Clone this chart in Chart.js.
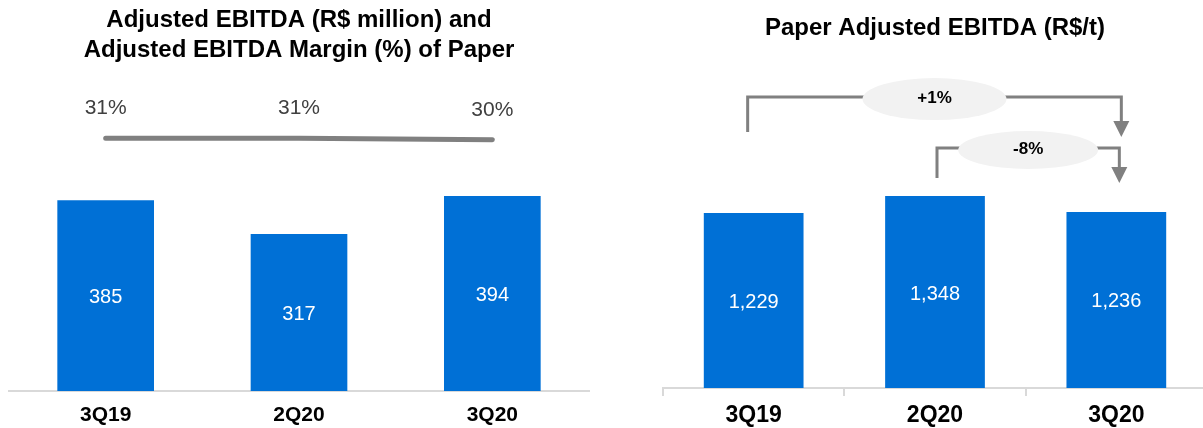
<!DOCTYPE html>
<html>
<head>
<meta charset="utf-8">
<script src="https://cdn.jsdelivr.net/npm/chart.js@4"></script>
<style>
  html, body { margin: 0; padding: 0; background: #fff; overflow: hidden; }
  #left { position: absolute; left: 0; top: 0; width: 600px; height: 428px; }
  #right { position: absolute; left: 600px; top: 0; width: 612px; height: 428px; }
</style>
</head>
<body>
<div id="left"><canvas id="ebitda"></canvas></div>
<div id="right"><canvas id="perTon"></canvas></div>
<script>
const quarters = ["3Q19", "2Q20", "3Q20"];
const ebitda = [385, 317, 394];          // R$ million
const margin = [31, 31, 30];             // %
const ebitdaPerTon = [1229, 1348, 1236]; // R$/t
// brackets on the right chart: compare index "from" against index "to"
const comparisons = [{ from: 0, to: 2 }, { from: 1, to: 2 }];

const FONT = "'Liberation Sans', Arial, sans-serif";
const BLUE = "#0070d6";
const GREY = "#808080";

//white value written in the middle of each bar
function makeBarLabels(format) {
  return {
    id: "barLabels",
    afterDatasetsDraw(chart) {
      const ctx = chart.ctx;
      const meta = chart.getDatasetMeta(0);
      ctx.save();
      ctx.font = "20px " + FONT;
      ctx.fillStyle = "#fff";
      ctx.textAlign = "center";
      ctx.textBaseline = "middle";
      meta.data.forEach((bar, i) => {
        ctx.fillText(format(chart.data.datasets[0].data[i]), bar.x, (bar.y + bar.base) / 2 + 2);
      });
      ctx.restore();
    }
  };
}

//margin % above the grey line
const marginLabels = {
  id: "marginLabels",
  afterDatasetsDraw(chart) {
    const ctx = chart.ctx;
    const meta = chart.getDatasetMeta(1);
    ctx.save();
    ctx.font = "21px " + FONT;
    ctx.fillStyle = "#404040";
    ctx.textAlign = "center";
    ctx.textBaseline = "middle";
    meta.data.forEach((pt, i) => {
      ctx.fillText(margin[i] + "%", pt.x, pt.y - 30);
    });
    ctx.restore();
  }
};

//bracket arrows with the % change in a grey ellipse
const brackets = {
  id: "brackets",
  afterDatasetsDraw(chart) {
    const ctx = chart.ctx;
    const x = chart.scales.x, y = chart.scales.y;
    // level of the horizontal line, bottom of the start leg, arrow tip (y values)
    const levels = [
      { top: 2043, start: 1798, tip: 1763, dx0: -6, dx1: 5, rx: 72, ry: 21 },
      { top: 1685, start: 1475, tip: 1440, dx0: 2, dx1: 3, rx: 70, ry: 19 }
    ];
    ctx.save();
    comparisons.forEach((c, k) => {
      const l = levels[k];
      const x0 = x.getPixelForValue(c.from) + l.dx0;
      const x1 = x.getPixelForValue(c.to) + l.dx1;
      const yt = y.getPixelForValue(l.top);
      const ys = y.getPixelForValue(l.start);
      const yTip = y.getPixelForValue(l.tip);
      ctx.strokeStyle = GREY;
      ctx.lineWidth = 3;
      ctx.beginPath();
      ctx.moveTo(x0, ys);
      ctx.lineTo(x0, yt);
      ctx.lineTo(x1, yt);
      ctx.lineTo(x1, yTip - 12);
      ctx.stroke();
      ctx.fillStyle = GREY;
      ctx.beginPath();
      ctx.moveTo(x1 - 8, yTip - 16);
      ctx.lineTo(x1 + 8, yTip - 16);
      ctx.lineTo(x1, yTip);
      ctx.closePath();
      ctx.fill();
      const cx = (x0 + x1) / 2;
      ctx.fillStyle = "#f2f2f2";
      ctx.beginPath();
      ctx.ellipse(cx, yt + 2, l.rx, l.ry, 0, 0, Math.PI * 2);
      ctx.fill();
      const pct = Math.round((ebitdaPerTon[c.to] / ebitdaPerTon[c.from] - 1) * 100);
      ctx.fillStyle = "#000";
      ctx.font = "bold 17px " + FONT;
      ctx.textAlign = "center";
      ctx.textBaseline = "middle";
      ctx.fillText((pct > 0 ? "+" : "") + pct + "%", cx, yt + 1);
    });
    ctx.restore();
  }
};

new Chart(document.getElementById("ebitda"), {
  data: {
    labels: quarters,
    datasets: [
      {
        type: "bar",
        data: ebitda,
        backgroundColor: BLUE,
        categoryPercentage: 1,
        barPercentage: 0.5,
        yAxisID: "y",
        order: 2
      },
      {
        type: "line",
        data: margin,
        borderColor: GREY,
        borderWidth: 5,
        borderCapStyle: "round",
        pointRadius: 0,
        tension: 0.3,
        yAxisID: "y2",
        order: 1
      }
    ]
  },
  options: {
    responsive: true,
    maintainAspectRatio: false,
    animation: false,
    layout: { padding: { left: 9, right: 11, top: 0, bottom: 0 } },
    plugins: {
      legend: { display: false },
      tooltip: { enabled: false },
      title: {
        display: true,
        text: ["Adjusted EBITDA (R$ million) and", "Adjusted EBITDA Margin (%) of Paper"],
        color: "#000",
        font: { size: 24, weight: "bold", family: FONT, lineHeight: 1.25 },
        padding: { top: 5, bottom: 15 }
      }
    },
    scales: {
      x: {
        grid: { display: false },
        border: { color: "#d9d9d9", width: 2 },
        ticks: { color: "#000", font: { size: 21, weight: "bold", family: FONT }, padding: 4 },
        afterFit: (scale) => { scale.height = 37; }
      },
      y: { display: false, min: 0, max: 628 },
      y2: { display: false, min: -138, max: 70 }
    }
  },
  plugins: [makeBarLabels(v => String(v)), marginLabels]
});

new Chart(document.getElementById("perTon"), {
  type: "bar",
  data: {
    labels: quarters,
    datasets: [{
      data: ebitdaPerTon,
      backgroundColor: BLUE,
      categoryPercentage: 1,
      barPercentage: 0.55
    }]
  },
  options: {
    responsive: true,
    maintainAspectRatio: false,
    animation: false,
    layout: { padding: { left: 63, right: 5, top: 0, bottom: 0 } },
    plugins: {
      legend: { display: false },
      tooltip: { enabled: false },
      title: {
        display: true,
        text: "Paper Adjusted EBITDA (R$/t)",
        color: "#000",
        font: { size: 24, weight: "bold", family: FONT, lineHeight: 1.25 },
        padding: { top: 13, bottom: 17 }
      }
    },
    scales: {
      x: {
        grid: { display: true, drawOnChartArea: false, offset: true, color: "#d9d9d9", lineWidth: 2, tickLength: 8 },
        border: { color: "#d9d9d9", width: 2 },
        ticks: { color: "#000", font: { size: 23, weight: "bold", family: FONT }, padding: 6 },
        afterFit: (scale) => { scale.height = 40; }
      },
      y: { display: false, min: 0, max: 2303 }
    }
  },
  plugins: [makeBarLabels(v => v.toLocaleString("en-US")), brackets]
});
</script>
</body>
</html>
